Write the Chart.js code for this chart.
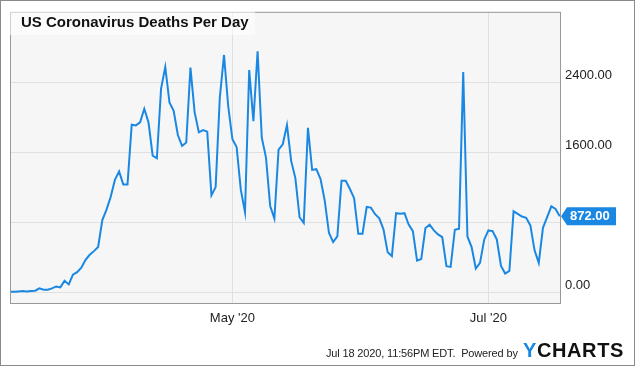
<!DOCTYPE html>
<html>
<head>
<meta charset="utf-8">
<script src="https://cdn.jsdelivr.net/npm/chart.js@4.4.0/dist/chart.umd.min.js"></script>
<style>
  html, body { margin: 0; padding: 0; background: #fff; }
  #wrap { position: relative; width: 635px; height: 366px; overflow: hidden; font-family: Arial, "Liberation Sans", sans-serif; }
  #chart { position: absolute; left: 0; top: 0; }
  #frame { position: absolute; left: 0; top: 0; width: 635px; height: 366px; box-sizing: border-box; border: 1px solid #8a8a8a; pointer-events: none; }
  #titleBox { position: absolute; left: 10px; top: 10px; width: 245px; height: 25px; background: rgba(255,255,255,0.55); }
  #title { position: absolute; left: 21px; top: 14px; font-size: 15px; line-height: 15px; font-weight: bold; color: #111; white-space: nowrap; }
  #footer { position: absolute; left: 326px; top: 348px; font-size: 11px; line-height: 11px; letter-spacing: -0.15px; color: #222; white-space: nowrap; }
  #logo { position: absolute; left: 523px; top: 340px; font-size: 20px; line-height: 20px; font-weight: bold; letter-spacing: 0.6px; color: #111; white-space: nowrap; }
  #logo span { color: #1a88e3; }
</style>
</head>
<body>
<div id="wrap">
  <canvas id="chart" width="635" height="366"></canvas>
  <div id="titleBox"></div>
  <div id="title">US Coronavirus Deaths Per Day</div>
  <div id="footer">Jul 18 2020, 11:56PM EDT.&nbsp; Powered by</div>
  <div id="logo"><span>Y</span>CHARTS</div>
  <div id="frame"></div>
</div>
<script>
// daily values, one per day starting 2020-03-09
const startDate = "2020-03-09";
const deaths = [
  8, 8, 11, 15, 11, 15, 19, 46, 30, 30,
  46, 68, 57, 133, 91, 203, 232, 283, 372, 430,
  472, 520, 828, 947, 1095, 1287, 1385, 1234, 1234, 1919,
  1911, 1946, 2101, 1946, 1566, 1535, 2333, 2580, 2174, 2079,
  1801, 1676, 1714, 2573, 2060, 1832, 1858, 1839, 1110, 1205,
  2231, 2717, 2130, 1752, 1664, 1175, 917, 2544, 1960, 2760,
  1770, 1543, 989, 845, 1634, 1695, 1914, 1505, 1308, 860,
  796, 1884, 1402, 1410, 1297, 1050, 682, 576, 640, 1277,
  1277, 1183, 1078, 671, 671, 978, 970, 895, 848, 722,
  458, 415, 906, 899, 906, 777, 701, 364, 383, 737,
  775, 709, 663, 632, 299, 291, 717, 728, 2521, 640,
  519, 273, 337, 603, 709, 701, 606, 303, 216, 246,
  928, 899, 868, 853, 766, 481, 337, 739, 860, 985,
  955, 872
];
const xTickDays = [53, 114];          // May 1, Jul 1 (days after start)
const xTickLabels = ["May '20", "Jul '20"];
const yTicks = [0, 800, 1600, 2400];

const lineColor = "#1a88e3";
const lastValue = deaths[deaths.length - 1];

let points = [];
for (let i = 0; i < deaths.length; i++) {
    points.push({ x: i, y: deaths[i] });
}

const plotBg = {
    id: "plotBg",
    beforeDraw(chart) {
        const a = chart.chartArea;
        const c = chart.ctx;
        c.save();
        c.fillStyle = "#f6f6f6";
        c.fillRect(a.left, a.top, a.right - a.left, a.bottom - a.top);
        c.restore();
    },
    afterDraw(chart) {
        const a = chart.chartArea;
        const c = chart.ctx;
        c.save();
        c.strokeStyle = "#999";
        c.lineWidth = 1;
        c.strokeRect(a.left + 0.5, a.top + 0.5, a.right - a.left - 1, a.bottom - a.top - 1);
        c.restore();
    }
};

// blue price tag on the right axis with the last value
const lastTag = {
    id: "lastTag",
    afterDraw(chart) {
        const c = chart.ctx;
        const y = chart.scales.y.getPixelForValue(lastValue);
        const x0 = chart.chartArea.right;
        c.save();
        c.fillStyle = lineColor;
        c.beginPath();
        c.moveTo(x0, y);
        c.lineTo(x0 + 6, y - 9);
        c.lineTo(x0 + 55, y - 9);
        c.lineTo(x0 + 55, y + 9);
        c.lineTo(x0 + 6, y + 9);
        c.closePath();
        c.fill();
        c.fillStyle = "#fff";
        c.font = "bold 13px Arial, 'Liberation Sans'";
        c.textBaseline = "middle";
        c.fillText(lastValue.toFixed(2), x0 + 9, y + 0.5);
        c.restore();
    }
};

new Chart(document.getElementById("chart"), {
    type: "line",
    data: {
        datasets: [{
            data: points,
            borderColor: lineColor,
            borderWidth: 2,
            pointRadius: 0,
            tension: 0,
            fill: false
        }]
    },
    options: {
        responsive: false,
        animation: false,
        layout: { padding: { left: 10, top: 10, right: 0, bottom: 0 } },
        plugins: { legend: { display: false }, tooltip: { enabled: false } },
        scales: {
            x: {
                type: "linear",
                min: 0,
                max: 131.3,
                afterBuildTicks: s => { s.ticks = xTickDays.map(v => ({ value: v })); },
                afterFit: s => { s.height = 62; },
                grid: { color: "#e0e0e0", drawTicks: false, tickLength: 0 },
                border: { display: false },
                ticks: {
                    padding: 7,
                    color: "#222",
                    maxRotation: 0,
                    autoSkip: false,
                    font: { size: 13, family: "Arial, 'Liberation Sans'" },
                    callback: v => xTickLabels[xTickDays.indexOf(v)]
                }
            },
            y: {
                position: "right",
                min: -133,
                max: 3211,
                afterBuildTicks: s => { s.ticks = yTicks.map(v => ({ value: v })); },
                afterFit: s => { s.width = 74; },
                grid: { color: "#e0e0e0", drawTicks: false, tickLength: 0 },
                border: { display: false },
                ticks: {
                    padding: 4,
                    labelOffset: -7,
                    color: "#222",
                    font: { size: 13, family: "Arial, 'Liberation Sans'" },
                    // hide the tick that would sit under the price tag
                    callback: v => Math.abs(v - lastValue) < 200 ? "" : v.toFixed(2)
                }
            }
        }
    },
    plugins: [plotBg, lastTag]
});
</script>
</body>
</html>
